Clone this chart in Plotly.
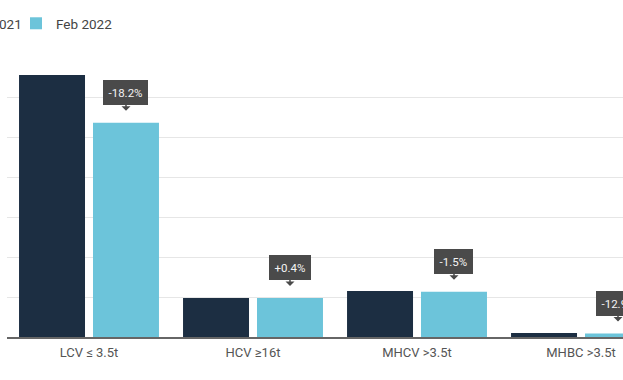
import plotly.graph_objects as go

categories = ["LCV ≤ 3.5t", "HCV ≥16t", "MHCV >3.5t", "MHBC >3.5t"]
feb_2021 = [131000, 19450, 23000, 2000]
feb_2022 = [107150, 19530, 22650, 1742]
change_labels = ["-18.2%", "+0.4%", "-1.5%", "-12.9%"]
y_ticks = [0, 20000, 40000, 60000, 80000, 100000, 120000, 140000]

DARK = "#1c2e42"
LIGHT = "#6cc4da"
BOX = "#4a4a4a"
BARGAP = 0.098

fig = go.Figure()
fig.add_trace(go.Bar(name="Feb 2021", x=categories, y=feb_2021, marker_color=DARK,
                     marker_line_width=0, legendwidth=45))
fig.add_trace(go.Bar(name="Feb 2022", x=categories, y=feb_2022, marker_color=LIGHT,
                     marker_line_width=0, legendwidth=70))

offset = (1 - BARGAP) / 4
for i, (v, lab) in enumerate(zip(feb_2022, change_labels)):
    fig.add_annotation(
        x=i + offset, y=v, xref="x", yref="y",
        text=lab, showarrow=True, ax=0, ay=-30,
        arrowhead=1, arrowsize=1, arrowwidth=1.5, arrowcolor=BOX,
        standoff=12,
        bgcolor=BOX, bordercolor=BOX, borderwidth=1, borderpad=4.5,
        font=dict(color="#f4f4f4", size=11.5, family="Roboto"),
    )

fig.update_layout(
    width=623, height=380,
    margin=dict(l=7, r=0, t=57, b=43, autoexpand=False),
    paper_bgcolor="white", plot_bgcolor="white",
    barmode="group", bargap=BARGAP, bargroupgap=0.108,
    font=dict(family="Roboto", size=13, color="#555"),
    legend=dict(orientation="h", x=-0.1315, xanchor="left", y=1.175, yanchor="top",
                font=dict(size=13.5, color="#444"), bgcolor="rgba(0,0,0,0)"),
    showlegend=True,
)
fig.update_xaxes(range=[-0.5, 3.256], showline=True, linecolor="#666", linewidth=1.5,
                 showgrid=False, ticks="", ticklabelstandoff=3,
                 tickfont=dict(size=13, color="#555"))
fig.update_yaxes(range=[0, 140000], tickvals=y_ticks, showticklabels=False,
                 showgrid=True, gridcolor="#e6e6e6", gridwidth=1, zeroline=False)

fig.write_html("out.html", config={"displayModeBar": False},
               post_script="document.body.style.margin='0';")
